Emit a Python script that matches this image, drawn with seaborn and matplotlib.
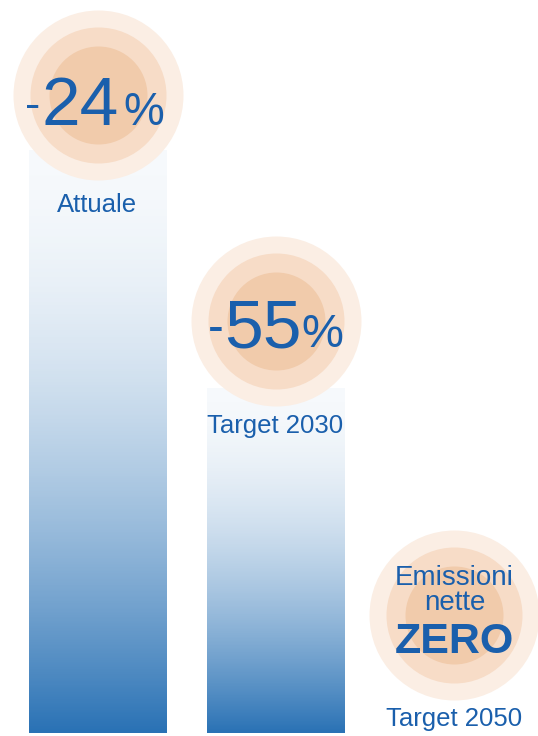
import numpy as np
import pandas as pd
import matplotlib
matplotlib.use("Agg")
import matplotlib.pyplot as plt
import seaborn as sns
from matplotlib.colors import LinearSegmentedColormap

# --- data -------------------------------------------------------------
categories = ["Attuale", "Target 2030", "Target 2050"]
reduction_pct = [-24, -55, -100]            # change vs. 1990 emissions
remaining = [100 + r for r in reduction_pct]  # residual emissions (index 1990 = 100)
zero_lines = ["Emissioni", "nette", "ZERO"]

# --- style ------------------------------------------------------------
BLUE_TEXT = "#1a5fac"
BAR_BLUE = "#2a72b5"
RING_COLORS = ["#fbeee4", "#f7dcc7", "#f1cbab"]
RING_RADII_PX = [85, 68, 49]

sns.set_theme(style="white")
plt.rcParams["font.family"] = ["Liberation Sans", "DejaVu Sans"]

W, H = 538, 736
fig = plt.figure(figsize=(W / 100, H / 100), dpi=100)
ax = fig.add_axes([0, 0, 1, 1])

df = pd.DataFrame({"scenario": categories, "emissioni": remaining})
sns.barplot(data=df, x="scenario", y="emissioni", ax=ax, width=0.77,
            color=BAR_BLUE, saturation=1, zorder=1)

# axis scale: pixels per category step and per emission unit
step_px = 178.0
first_px = 97.5
unit_px = 583.0 / 76.0
base_px = 733.0

def y_from_top(px):
    return (base_px - px) / unit_px

# vertical pale-to-blue gradient inside each bar
cmap = LinearSegmentedColormap.from_list("fade", ["#ffffff", BAR_BLUE])
t = 1 - np.linspace(0, 1, 256)
ramp = 0.04 + 0.96 * t ** 1.8
for patch in list(ax.patches):
    h = patch.get_height()
    if h <= 0:
        continue
    x, w = patch.get_x(), patch.get_width()
    im = ax.imshow(ramp[:, None], extent=[x, x + w, 0, h], origin="lower",
                   cmap=cmap, vmin=0, vmax=1, aspect="auto", zorder=1)
    im.set_clip_path(patch)
    patch.set_facecolor("none")
    patch.set_edgecolor("none")

ax.set_xlim(-first_px / step_px, (W - first_px) / step_px)
ax.set_ylim(-(H - base_px) / unit_px, base_px / unit_px)
ax.axis("off")

# badge centres (pixels from top of the figure)
badge_top_px = [95, 321, 615]
badge_y = [y_from_top(p) for p in badge_top_px]

for i, yb in enumerate(badge_y):
    for r, c in zip(RING_RADII_PX, RING_COLORS):
        ax.scatter([i], [yb], s=(2 * r * 0.72) ** 2, color=c,
                   linewidths=0, zorder=3)

font = dict(family=["Liberation Sans", "DejaVu Sans"], color=BLUE_TEXT)

def put(i, text, dx, dy, size, va="baseline", **kw):
    ax.annotate(text, xy=(i, badge_y[i]), xytext=(dx, dy),
                textcoords="offset pixels", ha="center", va=va,
                fontsize=size, zorder=5, **kw)

# percentage badges: (minus dx, minus dy, number dx, number/percent dy,
#                     percent dx, small size)
pct_layout = [(-65, -23.5, -17.5, -30, 46.5, 33),
              (-59.5, -20.8, -12.5, -26, 47, 34)]
for i, (mx, my, nx, ny, px, small) in enumerate(pct_layout):
    val = abs(reduction_pct[i])
    put(i, "-", mx, my, small, **font)
    put(i, f"{val}", nx, ny, 50, **font)
    put(i, "%", px, ny, small, **font)

# net-zero badge
put(2, zero_lines[0], 1, 30, 20, **font)
put(2, zero_lines[1], 1, 5, 20, **font)
put(2, zero_lines[2], 1, -38, 31, fontweight="bold", **font)

# scenario labels under each badge
label_dy = [-117, -112, -111]
for i, lab in enumerate(categories):
    put(i, lab, 0 if i < 2 else 1, label_dy[i], 18.5, **font)

fig.savefig("out.png", dpi=100)
